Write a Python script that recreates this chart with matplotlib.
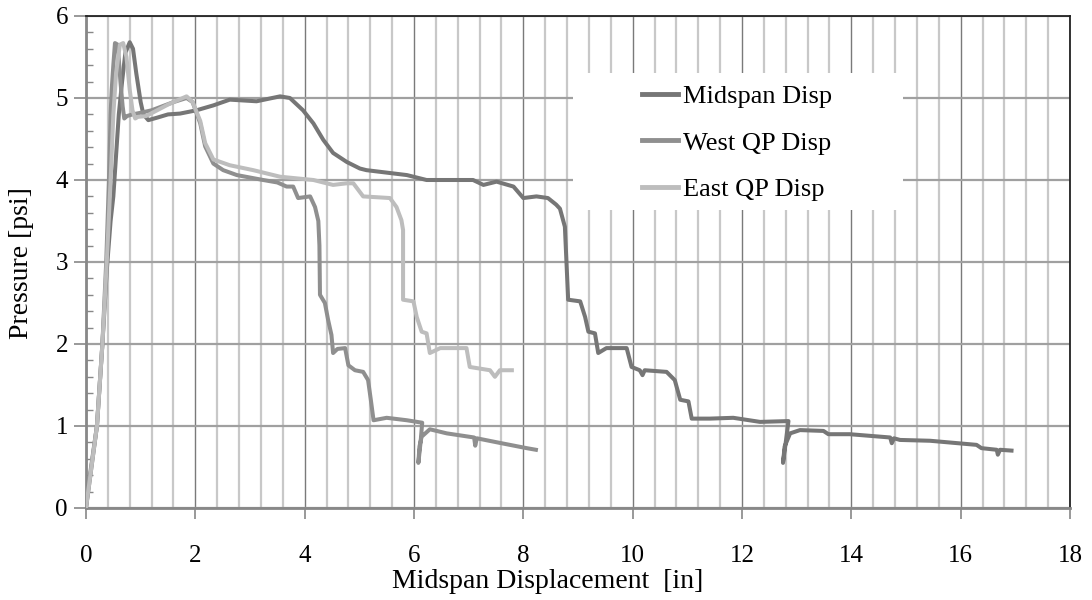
import matplotlib
matplotlib.use("Agg")
import matplotlib.pyplot as plt
from matplotlib.patches import Rectangle
from matplotlib.ticker import MultipleLocator

plt.rcParams['font.family'] = ['Liberation Serif', 'DejaVu Serif']

# ---- data ----
mid_x = [0.0, 0.1, 0.2, 0.3, 0.38, 0.45, 0.5, 0.55, 0.6, 0.66, 0.72, 0.8, 0.86, 0.92, 1.0,
         1.05, 1.14, 1.3, 1.5, 1.72, 2.02, 2.33, 2.63, 3.12, 3.55, 3.73, 3.97, 4.16, 4.34,
         4.52, 4.77, 5.01, 5.13, 5.87, 6.23, 7.08, 7.27, 7.51, 7.82, 8.0, 8.24, 8.45, 8.6,
         8.67, 8.76, 8.82, 9.04, 9.13, 9.19, 9.31, 9.37, 9.52, 9.89, 9.98, 10.13, 10.18,
         10.22, 10.62, 10.77, 10.87, 11.02, 11.08, 11.41, 11.84, 12.33, 12.85, 12.8, 12.75,
         12.78, 12.88, 13.06, 13.49, 13.58, 13.97, 14.71, 14.74, 14.78, 14.89, 15.44, 16.29,
         16.38, 16.66, 16.68, 16.72, 16.93]
mid_y = [0.0, 0.5, 1.0, 2.0, 2.9, 3.5, 3.8, 4.3, 4.8, 5.2, 5.55, 5.68, 5.6, 5.3, 4.95,
         4.8, 4.73, 4.76, 4.8, 4.81, 4.85, 4.91, 4.98, 4.96, 5.02, 5.0, 4.85, 4.69, 4.49,
         4.33, 4.22, 4.14, 4.12, 4.06, 4.0, 4.0, 3.94, 3.98, 3.92, 3.78, 3.8, 3.78, 3.7,
         3.65, 3.43, 2.54, 2.52, 2.33, 2.15, 2.13, 1.89, 1.95, 1.95, 1.72, 1.68, 1.62,
         1.68, 1.66, 1.56, 1.32, 1.3, 1.09, 1.09, 1.1, 1.05, 1.06, 0.8, 0.55,
         0.75, 0.91, 0.95, 0.94, 0.9, 0.9, 0.86, 0.79, 0.85, 0.83, 0.82, 0.77,
         0.73, 0.71, 0.65, 0.71, 0.7]

west_x = [0.0, 0.05, 0.2, 0.3, 0.37, 0.42, 0.45, 0.47, 0.5, 0.53, 0.58, 0.63, 0.67, 0.7,
          0.75, 0.85, 1.0, 1.2, 1.4, 1.6, 1.84, 1.95, 2.09, 2.18, 2.33, 2.51, 2.76, 3.24,
          3.5, 3.67, 3.79, 3.88, 4.1, 4.19, 4.25, 4.27, 4.28, 4.37, 4.43, 4.49, 4.52, 4.6,
          4.74, 4.8, 4.92, 5.07, 5.16, 5.21, 5.26, 5.5, 5.87, 6.15, 6.12, 6.08, 6.1, 6.14,
          6.29, 6.6, 7.1, 7.12, 7.15, 7.6, 8.06, 8.23]
west_y = [0.0, 0.3, 1.0, 2.0, 3.0, 4.0, 4.8, 5.1, 5.4, 5.67, 5.65, 5.2, 4.9, 4.75,
          4.78, 4.8, 4.82, 4.85, 4.9, 4.95, 5.0, 4.95, 4.69, 4.41, 4.2, 4.12, 4.06, 4.0,
          3.97, 3.92, 3.92, 3.78, 3.8, 3.67, 3.5, 3.2, 2.6, 2.5, 2.29, 2.11, 1.89, 1.94,
          1.95, 1.74, 1.68, 1.66, 1.56, 1.32, 1.07, 1.1, 1.07, 1.04, 0.8, 0.55, 0.75, 0.87,
          0.96, 0.91, 0.86, 0.76, 0.85, 0.79, 0.73, 0.71]

east_x = [0.0, 0.2, 0.3, 0.38, 0.45, 0.5, 0.55, 0.62, 0.68, 0.74, 0.8, 0.85, 0.9, 0.95,
          1.1, 1.3, 1.5, 1.7, 1.84, 1.95, 2.09, 2.18, 2.33, 2.63, 3.06, 3.55, 4.16, 4.52,
          4.77, 4.89, 5.07, 5.56, 5.68, 5.77, 5.8, 5.8, 5.99, 6.05, 6.14, 6.23, 6.29, 6.48,
          6.96, 7.02, 7.39, 7.48, 7.57, 7.79]
east_y = [0.0, 1.0, 2.0, 3.0, 4.0, 4.8, 5.3, 5.65, 5.67, 5.5, 5.1, 4.85, 4.75, 4.77,
          4.78, 4.85, 4.92, 4.98, 5.02, 4.95, 4.72, 4.45, 4.25, 4.18, 4.12, 4.04, 4.0, 3.94,
          3.96, 3.96, 3.8, 3.78, 3.67, 3.51, 3.39, 2.54, 2.52, 2.33, 2.15, 2.13, 1.89, 1.95,
          1.95, 1.72, 1.68, 1.6, 1.68, 1.68]

series = ["Midspan Disp", "West QP Disp", "East QP Disp"]
colors = ["#767676", "#8f8f8f", "#bdbdbd"]

W, H = 1092, 600
fig = plt.figure(figsize=(W / 100, H / 100), dpi=100)
ax_l, ax_r, ax_t, ax_b = 86, 1070, 16, 508
ax = fig.add_axes([ax_l / W, 1 - ax_b / H, (ax_r - ax_l) / W, (ax_b - ax_t) / H])

for xs, ys, c, lab in zip([mid_x, west_x, east_x], [mid_y, west_y, east_y], colors, series):
    ax.plot(xs, ys, color=c, lw=2.9, label=lab, solid_joinstyle='round', zorder=3)

ax.set_xlim(0, 18)
ax.set_ylim(0, 6)
ax.xaxis.set_major_locator(MultipleLocator(2))
ax.xaxis.set_minor_locator(MultipleLocator(0.4))
ax.yaxis.set_major_locator(MultipleLocator(1))
ax.yaxis.set_minor_locator(MultipleLocator(0.2))

ax.set_axisbelow(True)
ax.grid(which='major', axis='x', color='#7a7a7a', lw=1.0)
ax.grid(which='minor', axis='x', color='#c8c8c8', lw=1.6)
ax.grid(which='major', axis='y', color='#a0a0a0', lw=1.6)

ax.tick_params(axis='x', which='major', direction='out', length=8, width=1.2, color='#888888',
               pad=19, labelsize=18)
ax.tick_params(axis='x', which='minor', length=0)
ax.tick_params(axis='y', which='major', direction='out', length=9, width=1.2, color='#888888',
               pad=4, labelsize=18)
ax.tick_params(axis='y', which='minor', direction='in', length=5, width=1.0, color='#888888')

for s in ['left', 'bottom']:
    ax.spines[s].set_color('#888888')
    ax.spines[s].set_linewidth(2)
for s in ['top', 'right']:
    ax.spines[s].set_color('#222222')
    ax.spines[s].set_linewidth(1.3)

ax.set_xlabel("Midspan Displacement  [in]", fontsize=20, va='center')
ax.set_ylabel("Pressure [psi]", fontsize=20, va='center')
ax.xaxis.set_label_coords((548 - ax_l) / (ax_r - ax_l), -(581 - ax_b) / (ax_b - ax_t))
ax.yaxis.set_label_coords(-(86 - 22) / (ax_r - ax_l), (ax_b - 263) / (ax_b - ax_t))

# legend background box
def fx(px):
    return (px - ax_l) / (ax_r - ax_l)

def fy(py):
    return (ax_b - py) / (ax_b - ax_t)

ax.add_patch(Rectangle((fx(573), fy(210)), fx(903) - fx(573), fy(73) - fy(210),
                       transform=ax.transAxes, facecolor='white', edgecolor='none', zorder=2))
leg = ax.legend(loc='center left', bbox_to_anchor=(fx(642), fy(143)), frameon=False,
                fontsize=19, handlelength=1.35, handletextpad=0.2, labelspacing=0.88,
                borderpad=0, borderaxespad=0)
leg.set_zorder(5)
for lh in leg.get_lines():
    lh.set_linewidth(3.5)

fig.savefig("out.png", dpi=100)
